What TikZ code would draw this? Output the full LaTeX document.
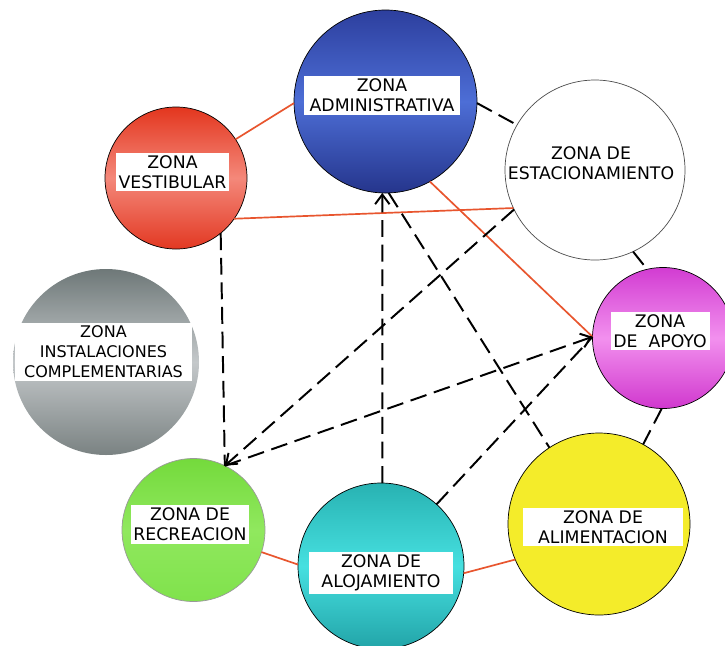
\documentclass[tikz,border=0pt]{standalone}
\usepackage{tikz}
\usepackage{xcolor}
\usepackage{fontspec}
\setmainfont{DejaVu Sans}
\definecolor{vizLink}{HTML}{E8552E}
\definecolor{vizAdminTop}{HTML}{2D3F9E}
\definecolor{vizAdminMid}{HTML}{4D6ED6}
\definecolor{vizAdminBot}{HTML}{25358C}
\definecolor{vizVestTop}{HTML}{E3361E}
\definecolor{vizVestMid}{HTML}{F4887A}
\definecolor{vizVestBot}{HTML}{E23822}
\definecolor{vizInstTop}{HTML}{6E7878}
\definecolor{vizInstMid}{HTML}{C4C8CA}
\definecolor{vizInstBot}{HTML}{7A8282}
\definecolor{vizApoyoTop}{HTML}{D23CD2}
\definecolor{vizApoyoMid}{HTML}{F290EE}
\definecolor{vizApoyoBot}{HTML}{D038CE}
\definecolor{vizRecTop}{HTML}{74DA3C}
\definecolor{vizRecMid}{HTML}{90E85E}
\definecolor{vizRecBot}{HTML}{80E24C}
\definecolor{vizAlojTop}{HTML}{28B2B2}
\definecolor{vizAlojMid}{HTML}{46E0E0}
\definecolor{vizAlojBot}{HTML}{22A4A8}
\definecolor{vizAlim}{HTML}{F4EC2A}
\usetikzlibrary{arrows.meta}

\tikzset{
  zone/.style={circle, draw=black, line width=0.5pt, inner sep=0pt, outer sep=0pt},
  zonelabel/.style={fill=white, align=center, inner xsep=2pt, inner ysep=2pt,
    font=\fontsize{12.3}{14.2}\selectfont},
  solidlink/.style={draw=vizLink, line width=1.2pt},
  dashlink/.style={draw=black, line width=1.4pt, dash pattern=on 12pt off 5.5pt},
  linkarrow/.style={-{Straight Barb[length=2.4mm,width=3.6mm]}}
}

\begin{document}
\begin{tikzpicture}
  \clip (0cm,0cm) rectangle (18.125cm,-16.125cm);
  \filldraw[fill=white, draw=none] (0cm,0cm) rectangle (18.125cm,-16.125cm);
  \node[zone, minimum size=4.575cm, top color=vizAdminTop, bottom color=vizAdminBot, middle color=vizAdminMid] (adm) at (9.6375cm,-2.5375cm) {};
  \node[zone, minimum size=3.55cm, top color=vizVestTop, bottom color=vizVestBot, middle color=vizVestMid] (vest) at (4.4cm,-4.45cm) {};
  \node[zone, minimum size=4.5cm, fill=white, draw=black!70] (est) at (14.875cm,-4.25cm) {};
  \node[zone, minimum size=3.525cm, top color=vizApoyoTop, bottom color=vizApoyoBot, middle color=vizApoyoMid] (apo) at (16.575cm,-8.45cm) {};
  \node[zone, minimum size=4.65cm, draw=none, top color=vizInstTop, bottom color=vizInstBot, middle color=vizInstMid] (inst) at (2.65cm,-9.05cm) {};
  \node[zone, minimum size=3.575cm, draw=black!40, top color=vizRecTop, bottom color=vizRecBot, middle color=vizRecMid] (rec) at (4.8375cm,-13.25cm) {};
  \node[zone, minimum size=4.15cm, top color=vizAlojTop, bottom color=vizAlojBot, middle color=vizAlojMid] (aloj) at (9.525cm,-14.15cm) {};
  \node[zone, minimum size=4.55cm, fill=vizAlim] (alim) at (14.975cm,-13.1cm) {};

  \draw[solidlink] (vest.33) -- (adm.181);
  \draw[solidlink] (vest.-35) -- (est.205);
  \draw[solidlink] (adm.-61) -- (apo.179);
  \draw[solidlink] (rec.-18) -- (aloj.179);
  \draw[solidlink] (aloj.-5) -- (alim.203);

  \draw[dashlink] (est.-65) -- (apo.103);
  \draw[dashlink] (adm.-1) -- (est.150);
  \draw[dashlink] (vest.-51) -- (rec.64);
  \draw[dashlink, linkarrow] (est.206) -- (rec.64);
  \draw[dashlink, linkarrow] (rec.64) -- (apo.179);
  \draw[dashlink] (aloj.48) -- (apo.179);
  \draw[dashlink, linkarrow] (aloj.89) -- (adm.268);
  \draw[dashlink] (adm.272) -- (alim.123);
  \draw[dashlink] (apo.269) -- (alim.61);

  \node[zonelabel, minimum width=3.9cm] (admLabel) at (9.55cm,-2.3875cm) {ZONA\\ADMINISTRATIVA};
  \node[zonelabel, minimum width=2.825cm] (vestLabel) at (4.3125cm,-4.3cm) {ZONA\\VESTIBULAR};
  \node[zonelabel, fill=none] (estLabel) at (14.775cm,-4.0875cm) {ZONA DE\\ESTACIONAMIENTO};
  \node[zonelabel, minimum width=2.4cm] (apoLabel) at (16.5cm,-8.275cm) {ZONA\\DE~ APOYO};
  \node[zonelabel, minimum width=4.425cm, font=\fontsize{11.4}{14.2}\selectfont] (instLabel) at (2.5875cm,-8.8cm) {ZONA\\INSTALACIONES\\COMPLEMENTARIAS};
  \node[zonelabel, minimum width=2.85cm] (recLabel) at (4.75cm,-13.1125cm) {ZONA DE\\RECREACION};
  \node[zonelabel, minimum width=3.6cm] (alojLabel) at (9.525cm,-14.325cm) {ZONA DE\\ALOJAMIENTO};
  \node[zonelabel, minimum width=4cm] (alimLabel) at (15.075cm,-13.175cm) {ZONA DE\\ALIMENTACION};
\end{tikzpicture}
\end{document}
